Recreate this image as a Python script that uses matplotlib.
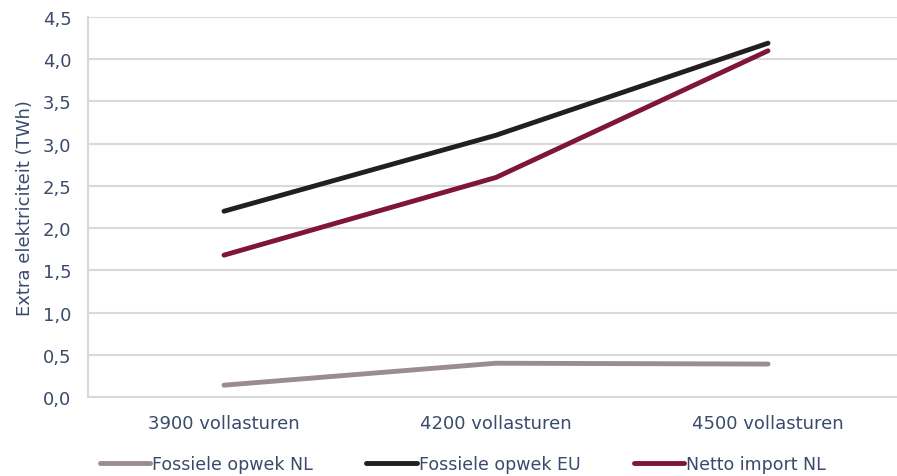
import matplotlib.pyplot as plt
from matplotlib.ticker import FuncFormatter

categories = ['3900 vollasturen', '4200 vollasturen', '4500 vollasturen']
fossiel_nl = [0.14, 0.40, 0.39]
fossiel_eu = [2.2, 3.1, 4.19]
import_nl = [1.68, 2.6, 4.1]

txt = '#3B4A6B'

fig = plt.figure(figsize=(8.97, 4.77), dpi=100)
ax = fig.add_axes([88 / 897, 79 / 477, (904 - 88) / 897, 380 / 477])

x = range(len(categories))
ax.plot(x, fossiel_nl, color='#9A8C8F', lw=3.5, solid_capstyle='round', label='Fossiele opwek NL')
ax.plot(x, fossiel_eu, color='#231F20', lw=3.5, solid_capstyle='round', label='Fossiele opwek EU')
ax.plot(x, import_nl, color='#7F1539', lw=3.5, solid_capstyle='round', label='Netto import NL')

ax.set_xlim(-0.5, 2.5)
ax.set_ylim(0, 4.5)
ax.set_yticks([i * 0.5 for i in range(10)])
ax.yaxis.set_major_formatter(FuncFormatter(lambda v, p: f'{v:.1f}'.replace('.', ',')))
ax.set_xticks(list(x))
ax.set_xticklabels(categories)
ax.grid(axis='y', color='#D9D9D9', lw=1.5)
ax.set_axisbelow(True)
for s in ['top', 'right']:
    ax.spines[s].set_visible(False)
ax.spines['left'].set_color('#D9D9D9')
ax.spines['bottom'].set_color('#D9D9D9')
ax.spines['left'].set_linewidth(1.5)
ax.spines['bottom'].set_linewidth(1.5)
ax.tick_params(length=0, labelsize=13, colors=txt, pad=12)
ax.tick_params(axis='x', pad=12)
ax.set_ylabel('Extra elektriciteit (TWh)', color=txt, fontsize=13, labelpad=6)

fig.legend(loc='center', bbox_to_anchor=(0.516, 0.025), ncol=3, frameon=False,
           handlelength=2.9, handletextpad=0.1, columnspacing=3.1,
           prop={'size': 12.5}, labelcolor=txt)

fig.savefig('out.png', dpi=100)
